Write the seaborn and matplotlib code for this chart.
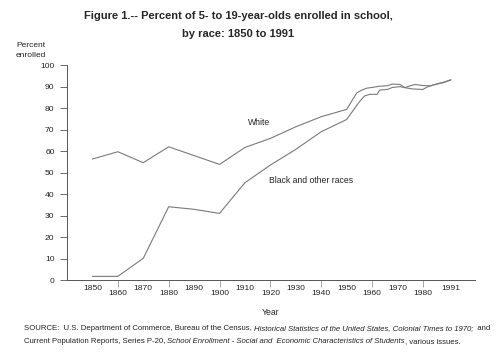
import pandas as pd
import matplotlib
matplotlib.use("Agg")
import matplotlib.pyplot as plt
import seaborn as sns

# --- Data ---
white_years = [1850, 1860, 1870, 1880, 1890, 1900, 1910, 1920, 1930, 1940, 1950,
               1954, 1956, 1958, 1960, 1963, 1966, 1968, 1971, 1973, 1975, 1977,
               1980, 1983, 1986, 1988, 1991]
white_pct = [56.3, 59.7, 54.6, 62.0, 57.9, 53.8, 61.7, 65.9, 71.3, 76.0, 79.4,
             87.1, 88.4, 89.3, 89.6, 90.2, 90.4, 91.2, 91.0, 89.5, 90.4, 91.0,
             90.5, 90.4, 91.5, 92.0, 93.2]

black_years = [1850, 1860, 1870, 1880, 1890, 1900, 1910, 1920, 1930, 1940, 1950,
               1955, 1957, 1959, 1962, 1963, 1966, 1968, 1971, 1973, 1976, 1980,
               1982, 1985, 1988, 1991]
black_pct = [1.7, 1.7, 10.1, 34.1, 32.9, 31.0, 45.3, 53.5, 60.8, 69.0, 74.7,
             82.9, 85.6, 86.4, 86.4, 88.4, 88.7, 89.6, 90.0, 89.5, 88.9, 88.7,
             90.0, 91.0, 91.8, 93.1]

row1_ticks = [1850, 1870, 1890, 1910, 1930, 1950, 1970, 1991]
row2_ticks = [1860, 1880, 1900, 1920, 1940, 1960, 1980]

df = pd.concat([
    pd.DataFrame({"Year": white_years, "Percent": white_pct, "Race": "White"}),
    pd.DataFrame({"Year": black_years, "Percent": black_pct, "Race": "Black and other races"}),
])

sns.set_style("white")
plt.rcParams["font.family"] = ["Liberation Sans", "DejaVu Sans"]

fig = plt.figure(figsize=(5, 3.54), dpi=100)
ax = fig.add_axes([0.134, 0.209, 0.816, 0.607])

sns.lineplot(data=df, x="Year", y="Percent", hue="Race", palette=["#7a7a7a", "#7a7a7a"],
             linewidth=0.8, legend=False, ax=ax, sort=True)

ax.set_xlim(1840, 2000.5)
ax.set_ylim(0, 100)
ax.set_yticks(range(0, 101, 10))
ax.set_xticks(row1_ticks)
ax.set_xticklabels([str(y) for y in row1_ticks])
ax.set_xticks(row2_ticks, minor=True)
ax.set_xticklabels([str(y) for y in row2_ticks], minor=True)

ax.tick_params(axis="y", length=5, width=0.6, color="#555555", pad=4, labelsize=6.1,
               labelcolor="#222222", left=True)
ax.tick_params(axis="x", which="major", length=0, pad=3.5, labelsize=6.1, labelcolor="#222222")
ax.tick_params(axis="x", which="minor", length=5, width=0.6, color="#999999", pad=2,
               labelsize=6.1, labelcolor="#222222", bottom=True)

for s in ["top", "right"]:
    ax.spines[s].set_visible(False)
for s in ["left", "bottom"]:
    ax.spines[s].set_color("#555555")
    ax.spines[s].set_linewidth(0.7)

ax.set_xlabel("Year", fontsize=6.2, color="#222222", labelpad=8)
ax.set_ylabel("")

ax.text(1915.5, 73.2, "White", fontsize=6.2, color="#222222", ha="center", va="center")
ax.text(1919.6, 46.2, "Black and other races", fontsize=6.2, color="#222222",
        ha="left", va="center")

fig.text(0.032, 0.857, "Percent\nenrolled", fontsize=6.0, color="#222222",
         ha="left", va="center", linespacing=1.55)

fig.text(0.477, 0.955, "Figure 1.-- Percent of 5- to 19-year-olds enrolled in school,",
         fontsize=8.0, fontweight="bold", ha="center", va="center")
fig.text(0.477, 0.905, "by race: 1850 to 1991",
         fontsize=8.0, fontweight="bold", ha="center", va="center")

# source note with italic titles, laid out piece by piece
fig.canvas.draw()
renderer = fig.canvas.get_renderer()


def write_line(x, y, parts):
    for txt, style in parts:
        t = fig.text(x, y, txt, fontsize=5.55, style=style, color="#222222",
                     ha="left", va="center")
        bb = t.get_window_extent(renderer=renderer)
        x += bb.width / fig.bbox.width


write_line(0.048, 0.073, [
    ("SOURCE:  U.S. Department of Commerce, Bureau of the Census, ", "normal"),
    ("Historical Statistics of the United States, Colonial Times to 1970;", "italic"),
    ("  and", "normal"),
])
write_line(0.048, 0.036, [
    ("Current Population Reports, Series P-20, ", "normal"),
    ("School Enrollment - Social and  Economic Characteristics of Students", "italic"),
    (", various issues.", "normal"),
])

fig.savefig("out.png", dpi=100)
